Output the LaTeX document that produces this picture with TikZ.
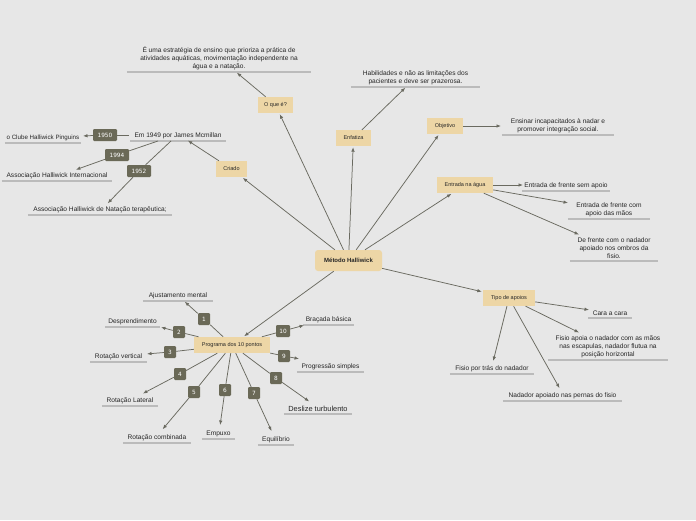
\documentclass[tikz,border=0pt]{standalone}
\usepackage{fontspec}
\setmainfont{Liberation Sans}
\newfontfamily\numfont{DejaVu Sans}
\usetikzlibrary{arrows.meta}
\definecolor{bg}{HTML}{E7E7E7}
\definecolor{beige}{HTML}{EDD6A6}
\definecolor{dark}{HTML}{6A6957}
\definecolor{lnc}{HTML}{6A6A60}
\definecolor{ulc}{HTML}{BBBBBB}
\tikzset{
 topic/.style={fill=beige, minimum height=16pt, inner sep=0pt, font=\fontsize{5.5}{6}\selectfont, text=black!85},
 num/.style={fill=dark, text=white, rounded corners=1.2pt, minimum width=12pt, minimum height=12pt, inner sep=0pt, font=\numfont\fontsize{5.8}{6}\selectfont},
 uline/.style={draw=ulc, line width=1.4pt},
 leaf/.style={anchor=south, align=center, inner xsep=0pt, inner ysep=2.2pt, font=\fontsize{6.6}{8}\selectfont, text=black!85,
   append after command={(\tikzlastnode.south west) edge[uline] (\tikzlastnode.south east)}},
 conn/.style={draw=lnc, line width=0.75pt},
 arr/.style={conn, -{Latex[length=4.5pt,width=3.5pt]}, shorten >=1pt},
}
\begin{document}
\begin{tikzpicture}[x=1pt,y=-1pt]
\fill[bg] (0,0) rectangle (696,520);
\useasboundingbox (0,0) rectangle (696,520);

% central
\node[topic, minimum width=67pt, minimum height=21pt, rounded corners=3pt, font=\bfseries\fontsize{6}{6}\selectfont] (mh) at (348.5,260.5) {Método Halliwick};

% topics
\node[topic, minimum width=35pt] (oq) at (275.5,105) {O que é?};
\node[topic, minimum width=35pt] (enf) at (353.5,138) {Enfatiza};
\node[topic, minimum width=36pt] (obj) at (445,126) {Objetivo};
\node[topic, minimum width=31pt] (cri) at (231.5,169) {Criado};
\node[topic, minimum width=56pt] (ent) at (465,185) {Entrada na água};
\node[topic, minimum width=52pt] (tip) at (509,298) {Tipo de apoios};
\node[topic, minimum width=76pt] (prog) at (232,345) {Programa dos 10 pontos};

% leaves
\node[leaf, minimum width=184pt] (oq-t) at (219,72) {É uma estratégia de ensino que prioriza a prática de\\atividades aquáticas, movimentação independente na\\água e a natação.};
\node[leaf, minimum width=129pt] (enf-t) at (415.5,87) {Habilidades e não as limitações dos\\pacientes e deve ser prazerosa.};
\node[leaf, minimum width=112pt] (obj-t) at (558,135) {Ensinar incapacitados à nadar e\\promover integração social.};
\node[leaf, minimum width=88pt] (e1) at (566,191) {Entrada de frente sem apoio};
\node[leaf, minimum width=82pt] (e2) at (609,219) {Entrada de frente com\\apoio das mãos};
\node[leaf, minimum width=88pt] (e3) at (614,261) {De frente com o nadador\\apoiado nos ombros da\\fisio.};
\node[leaf, minimum width=44pt] (a1) at (610,318) {Cara a cara};
\node[leaf, minimum width=120pt] (a2) at (608,360) {Fisio apoia o nadador com as mãos\\nas escapulas, nadador flutua na\\posição horizontal};
\node[leaf, minimum width=84pt] (a3) at (492,374) {Fisio por trás do nadador};
\node[leaf, minimum width=119pt] (a4) at (562.5,401) {Nadador apoiado nas pernas do fisio};

% Criado branch
\node[leaf, minimum width=96pt] (em) at (178,141) {Em 1949 por James Mcmillan};
\node[leaf, anchor=south east, inner xsep=1.5pt, font=\fontsize{6.2}{8}\selectfont] (pin) at (81,143) {o Clube Halliwick Pinguins};
\node[leaf, minimum width=110pt] (int) at (57,181) {Associação Halliwick Internacional};
\node[leaf, minimum width=144pt] (ter) at (100,215) {Associação Halliwick de Natação terapêutica;};
\node[num, minimum width=24pt] (y50) at (105,135) {1950};
\node[num, minimum width=24pt] (y94) at (117,155) {1994};
\node[num, minimum width=24pt] (y52) at (139,171) {1952};

% Programa branch
\node[leaf, minimum width=70pt] (p1) at (178,301) {Ajustamento mental};
\node[leaf, minimum width=55pt] (p2) at (132.5,327) {Desprendimento};
\node[leaf, minimum width=57pt] (p3) at (118.5,362) {Rotação vertical};
\node[leaf, minimum width=56pt] (p4) at (130,406) {Rotação Lateral};
\node[leaf, minimum width=68pt] (p5) at (157,443) {Rotação combinada};
\node[leaf, minimum width=33pt] (p6) at (218.5,439) {Empuxo};
\node[leaf, minimum width=36pt] (p7) at (276,445) {Equilíbrio};
\node[leaf, minimum width=68pt, font=\fontsize{7.4}{8}\selectfont] (p8) at (318,414) {Deslize turbulento};
\node[leaf, minimum width=67pt] (p9) at (330.5,372) {Progressão simples};
\node[leaf, minimum width=51pt] (p10) at (328.5,325) {Braçada básica};
\node[num] (n1) at (204,319) {1};
\node[num] (n2) at (179,332) {2};
\node[num] (n3) at (170,352) {3};
\node[num] (n4) at (180,374) {4};
\node[num] (n5) at (194,392) {5};
\node[num] (n6) at (225,390) {6};
\node[num] (n7) at (254,393) {7};
\node[num] (n8) at (276,378) {8};
\node[num] (n9) at (284,356) {9};
\node[num, minimum width=14pt] (n10) at (283,331) {10};

% tip coordinates
\coordinate (oq-tip) at (236,72);
\coordinate (enf-tip) at (406,87);
\coordinate (obj-tip) at (502,126);
\coordinate (e1-tip) at (524,185);
\coordinate (e2-tip) at (569,203);
\coordinate (e3-tip) at (580,235);
\coordinate (a1-tip) at (590,310);
\coordinate (a2-tip) at (580,333);
\coordinate (a3-tip) at (493,362);
\coordinate (a4-tip) at (560,389);
\coordinate (em-tip) at (187,140);
\coordinate (em-a) at (129,135);
\coordinate (em-b) at (158,141);
\coordinate (em-c) at (171,141);
\coordinate (pin-tip) at (82,136);
\coordinate (int-tip) at (75,170);
\coordinate (ter-tip) at (107,204);
\coordinate (t1) at (184,301);
\coordinate (t2) at (160,327);
\coordinate (t3) at (146,354);
\coordinate (t4) at (142,394);
\coordinate (t5) at (162,430);
\coordinate (t6) at (220,426);
\coordinate (t7) at (272,432);
\coordinate (t8) at (310,402);
\coordinate (t9) at (300,359);
\coordinate (t10) at (305,325);

% central connectors
\foreach \t in {oq,enf,obj,cri,ent,tip,prog} \draw[arr] (mh) -- (\t);

% topic to leaves
\draw[arr] (oq) -- (oq-tip);
\draw[arr] (enf) -- (enf-tip);
\draw[arr] (obj) -- (obj-tip);
\foreach \t in {e1,e2,e3} \draw[arr] (ent) -- (\t-tip);
\foreach \t in {a1,a2,a3,a4} \draw[arr] (tip) -- (\t-tip);

% Criado branch
\draw[arr] (cri) -- (em-tip);
\draw[conn] (em-a) -- (y50); \draw[arr] (y50) -- (pin-tip);
\draw[conn] (em-b) -- (y94); \draw[arr] (y94) -- (int-tip);
\draw[conn] (em-c) -- (y52); \draw[arr] (y52) -- (ter-tip);

% Programa branch
\foreach \i in {1,...,10} {
  \draw[conn] (prog) -- (n\i);
  \draw[arr] (n\i) -- (t\i);
}
\end{tikzpicture}
\end{document}
